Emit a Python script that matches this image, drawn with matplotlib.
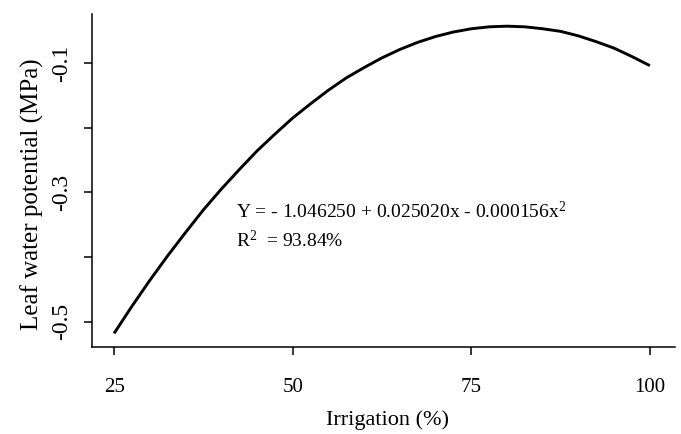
import matplotlib
matplotlib.use("Agg")
import matplotlib.pyplot as plt

# values
irrigation = [25, 27.5, 30, 32.5, 35, 37.5, 40, 42.5, 45, 47.5, 50, 52.5, 55,
              57.5, 60, 62.5, 65, 67.5, 70, 72.5, 75, 77.5, 80, 82.5, 85,
              87.5, 90, 92.5, 95, 97.5, 100]
potential = [-0.518, -0.476, -0.436, -0.398, -0.362, -0.327, -0.295, -0.265,
             -0.236, -0.210, -0.185, -0.163, -0.142, -0.123, -0.107, -0.092,
             -0.079, -0.068, -0.059, -0.052, -0.047, -0.044, -0.043, -0.044,
             -0.047, -0.051, -0.058, -0.067, -0.077, -0.090, -0.104]
xticks = [25, 50, 75, 100]
yticks = [-0.5, -0.4, -0.3, -0.2, -0.1]
ylabels = ['-0.5', '', '-0.3', '', '-0.1']
eq_text = r"Y = - 1.046250 + 0.025020x - 0.000156x$^{2}$"
r2_text = r"R$^{2}$  = 93.84%"

plt.rcParams['font.family'] = ['Liberation Serif', 'DejaVu Serif']
plt.rcParams['mathtext.fontset'] = 'custom'
plt.rcParams['mathtext.rm'] = 'Liberation Serif'
plt.rcParams['mathtext.it'] = 'Liberation Serif:italic'

fig = plt.figure(figsize=(6.81, 4.34), dpi=100)
ax = fig.add_axes([0.135, 0.2005, 0.856, 0.7675])

ax.plot(irrigation, potential, color='black', lw=2.1, solid_capstyle='butt')

ax.set_xlim(21.9, 103.5)
ax.set_ylim(-0.539, -0.024)
ax.spines['top'].set_visible(False)
ax.spines['right'].set_visible(False)
ax.spines['left'].set_linewidth(1.1)
ax.spines['bottom'].set_linewidth(1.1)

ax.set_xticks(xticks)
ax.set_yticks(yticks)
ax.set_yticklabels(ylabels, rotation=90, va='center')
ax.tick_params(axis='both', direction='out', length=6, width=1.1)
ax.tick_params(axis='x', pad=16, labelsize=15)
ax.tick_params(axis='y', pad=8, labelsize=17)

# axis titles placed like the R original
fig.text(387 / 681, 1 - 420 / 434, 'Irrigation (%)', fontsize=16,
         ha='center', va='center')
fig.text(32 / 681, 1 - 194 / 434, 'Leaf water potential (MPa)', fontsize=18,
         rotation=90, ha='center', va='center')

ax.text(42.1, -0.330, eq_text, fontsize=14, va='center', ha='left')
ax.text(42.1, -0.375, r2_text, fontsize=14, va='center', ha='left')

fig.savefig('out.png', dpi=100)
